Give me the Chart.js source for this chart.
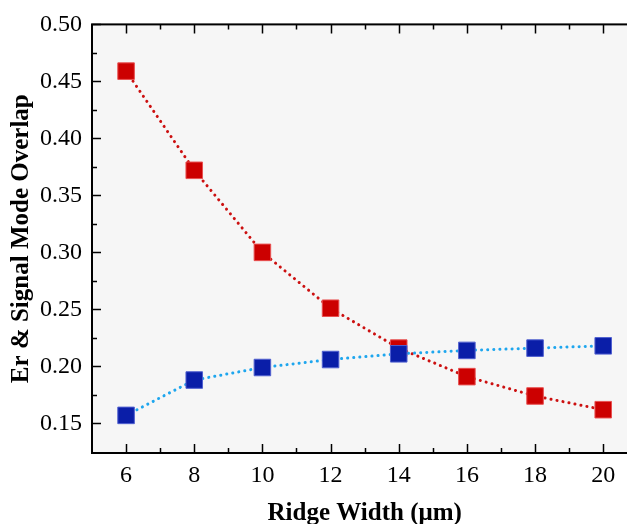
<!DOCTYPE html>
<html>
<head>
<meta charset="utf-8">
<script src="https://cdn.jsdelivr.net/npm/chart.js@4.4.1/dist/chart.umd.min.js"></script>
<style>
  html, body { margin: 0; padding: 0; background: #fff; overflow: hidden; }
  #clip { width: 627px; height: 524px; overflow: hidden; }
  #wrap { width: 650px; height: 530px; }
</style>
</head>
<body>
<div id="clip"><div id="wrap"><canvas id="overlapChart"></canvas></div></div>
<script>
// ridge width (um) and the two overlap series
const ridgeWidth = [6, 8, 10, 12, 14, 16, 18, 20];
const erOverlap = [0.459, 0.372, 0.300, 0.251, 0.216, 0.191, 0.174, 0.162];
const signalOverlap = [0.157, 0.188, 0.199, 0.206, 0.211, 0.214, 0.216, 0.218];
const xTicks = [6, 8, 10, 12, 14, 16, 18, 20];
const yTicks = [0.15, 0.20, 0.25, 0.30, 0.35, 0.40, 0.45, 0.50];

const serif = "'Liberation Serif', 'Times New Roman', serif";

function toPoints(ys) {
    return ridgeWidth.map((x, i) => ({ x: x, y: ys[i] }));
}

// plot background, frame and inward ticks (major + minor)
const framePlugin = {
    id: 'frame',
    beforeDraw(chart) {
        const a = chart.chartArea;
        const ctx = chart.ctx;
        ctx.save();
        ctx.fillStyle = '#f6f6f6';
        ctx.fillRect(a.left, a.top, a.right - a.left, a.bottom - a.top);
        ctx.restore();
    },
    afterDraw(chart) {
        const a = chart.chartArea;
        const ctx = chart.ctx;
        const xs = chart.scales.x, ys = chart.scales.y;
        ctx.save();
        ctx.strokeStyle = '#000';
        ctx.lineWidth = 2;
        ctx.strokeRect(a.left, a.top, a.right - a.left, a.bottom - a.top);
        ctx.lineWidth = 1.5;

        const mids = arr => arr.slice(1).map((v, i) => (v + arr[i]) / 2);

        const xTick = (v, len) => {
            const px = Math.round(xs.getPixelForValue(v)) + 0.5;
            ctx.beginPath();
            ctx.moveTo(px, a.bottom); ctx.lineTo(px, a.bottom - len);
            ctx.moveTo(px, a.top); ctx.lineTo(px, a.top + len);
            ctx.stroke();
        };
        const yTick = (v, len) => {
            const py = Math.round(ys.getPixelForValue(v)) + 0.5;
            ctx.beginPath();
            ctx.moveTo(a.left, py); ctx.lineTo(a.left + len, py);
            ctx.moveTo(a.right, py); ctx.lineTo(a.right - len, py);
            ctx.stroke();
        };
        xTicks.forEach(v => xTick(v, 9));
        mids(xTicks).forEach(v => xTick(v, 5));
        yTicks.forEach(v => yTick(v, 9));
        mids(yTicks).forEach(v => yTick(v, 5));
        ctx.restore();
    }
};

const lineStyle = {
    borderWidth: 3,
    borderDash: [0.1, 6],
    borderCapStyle: 'round',
    pointStyle: 'rect',
    pointRadius: 11.7,
    pointHoverRadius: 11.7,
    pointBorderWidth: 1,
    tension: 0
};

new Chart(document.getElementById('overlapChart'), {
    type: 'line',
    data: {
        datasets: [
            Object.assign({
                label: 'Er',
                data: toPoints(erOverlap),
                borderColor: '#cc1010',
                backgroundColor: '#cc0000',
                pointBorderColor: '#e85050',
                order: 1
            }, lineStyle),
            Object.assign({
                label: 'Signal',
                data: toPoints(signalOverlap),
                borderColor: '#1ea6ee',
                backgroundColor: '#0a1ea8',
                pointBorderColor: '#5060d0',
                order: 0
            }, lineStyle)
        ]
    },
    options: {
        responsive: true,
        maintainAspectRatio: false,
        animation: false,
        events: [],
        layout: { padding: { top: 22, right: 4, left: 0, bottom: 0 } },
        plugins: {
            legend: { display: false },
            tooltip: { enabled: false }
        },
        scales: {
            x: {
                type: 'linear',
                min: 5,
                max: 21,
                afterFit: s => { s.height = 77; },
                afterBuildTicks: s => { s.ticks = xTicks.map(v => ({ value: v })); },
                grid: { display: false, drawTicks: false },
                border: { display: false },
                ticks: {
                    padding: 8,
                    color: '#000',
                    font: { family: serif, size: 24 },
                    callback: v => String(v)
                },
                title: {
                    display: true,
                    text: 'Ridge Width (μm)',
                    color: '#000',
                    font: { family: serif, size: 25, weight: 'bold' },
                    padding: { top: 0, bottom: 1 }
                }
            },
            y: {
                min: 0.124,
                max: 0.50,
                afterFit: s => { s.width = 92; },
                afterBuildTicks: s => { s.ticks = yTicks.map(v => ({ value: v })); },
                grid: { display: false, drawTicks: false },
                border: { display: false },
                ticks: {
                    padding: 10,
                    color: '#000',
                    font: { family: serif, size: 24 },
                    callback: v => v.toFixed(2)
                },
                title: {
                    display: true,
                    text: 'Er & Signal Mode Overlap',
                    color: '#000',
                    font: { family: serif, size: 25, weight: 'bold' },
                    padding: { top: 7, bottom: 0 }
                }
            }
        }
    },
    plugins: [framePlugin]
});
</script>
</body>
</html>
